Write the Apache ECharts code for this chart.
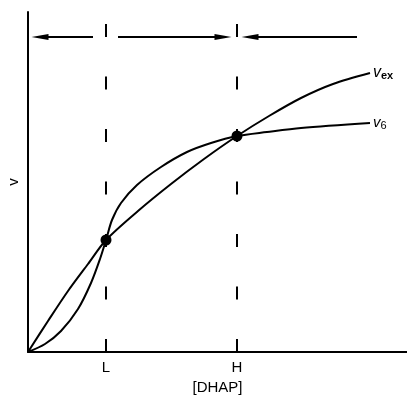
<!DOCTYPE html>
<html>
<head>
<meta charset="utf-8">
<script src="https://cdn.jsdelivr.net/npm/echarts@6/dist/echarts.min.js"></script>
<style>html,body{margin:0;padding:0;background:#fff}#c{width:407px;height:395px}</style>
</head>
<body>
<div id="c"></div>
<script>
// ---- data ----
const L = 78, H = 209;
const xTickValues = [L, H];
const xTickLabels = ['L', 'H'];
const vexX = [0, 20, 40, 60, 78, 110, 143, 176, 209, 241, 273, 305, 342];
const vexY = [0, 31, 61, 88, 112, 141, 168, 193, 216, 236, 254, 268, 279];
const v6X = [0, 17, 33, 50, 63, 72, 78, 84, 93, 109, 133, 159, 183, 209, 239, 273, 342];
const v6Y = [0, 8, 21, 43, 69, 93, 112, 132, 149, 167, 185, 200, 209, 216, 220, 224, 229];
const crossX = [78, 209];
const crossY = [112, 216];
const arrowLevel = 315;
const arrowFrom = [65, 90, 329];
const arrowTo = [12, 195, 222];
const yTop = 340, xRight = 379;

const zip = (a, b) => a.map((v, i) => [v, b[i]]);
const ink = '#000';
const font = 'Liberation Sans';

const chart = echarts.init(document.getElementById('c'), null, {renderer: 'canvas'});
chart.setOption({
  animation: false,
  backgroundColor: '#fff',
  grid: {left: 28, right: 0, top: 12, bottom: 43, containLabel: false, outerBoundsMode: 'none'},
  xAxis: {
    type: 'value', min: 0, max: xRight,
    name: '[DHAP]', nameLocation: 'middle', nameGap: 26,
    nameTextStyle: {color: ink, fontSize: 15, fontFamily: font},
    axisLine: {show: true, onZero: false, lineStyle: {color: ink, width: 2}},
    axisTick: {show: false},
    splitLine: {show: false},
    axisLabel: {
      customValues: xTickValues, margin: 8,
      color: ink, fontSize: 15, fontFamily: font,
      formatter: v => xTickLabels[xTickValues.indexOf(v)] || ''
    }
  },
  yAxis: {
    type: 'value', min: 0, max: yTop,
    name: 'v', nameLocation: 'middle', nameGap: 7,
    nameTextStyle: {color: ink, fontSize: 15, fontFamily: font},
    axisLine: {show: true, onZero: false, lineStyle: {color: ink, width: 2}},
    axisTick: {show: false}, axisLabel: {show: false}, splitLine: {show: false}
  },
  series: [
    {
      name: 'guides', type: 'line', data: [], silent: true,
      markLine: {
        silent: true, symbol: 'none', label: {show: false},
        lineStyle: {color: ink, width: 2, type: [13, 39.5]},
        data: xTickValues.map(v => [{coord: [v, 0]}, {coord: [v, yTop]}])
      }
    },
    {
      name: 'arrows', type: 'line', data: [], silent: true,
      markLine: {
        silent: true, symbol: ['none', 'triangle'], symbolSize: [6, 17],
        label: {show: false},
        lineStyle: {color: ink, width: 2, type: 'solid'},
        data: arrowFrom.map((f, i) => [{coord: [f, arrowLevel]}, {coord: [arrowTo[i], arrowLevel]}])
      }
    },
    {
      name: 'vex', type: 'line', smooth: 0.3, showSymbol: false,
      data: zip(vexX, vexY),
      lineStyle: {color: ink, width: 2},
      endLabel: {
        show: true, distance: 3,
        formatter: '{v|v}{s|ex}',
        rich: {
          v: {fontStyle: 'italic', fontSize: 16, fontFamily: font, color: ink},
          s: {fontSize: 11, fontWeight: 'bold', fontFamily: font, color: ink, padding: [5, 0, 0, 0]}
        }
      }
    },
    {
      name: 'v6', type: 'line', smooth: 0.3, showSymbol: false,
      data: zip(v6X, v6Y),
      lineStyle: {color: ink, width: 2},
      endLabel: {
        show: true, distance: 3,
        formatter: '{v|v}{s|6}',
        rich: {
          v: {fontStyle: 'italic', fontSize: 15, fontFamily: font, color: ink},
          s: {fontSize: 11, fontFamily: font, color: ink, padding: [5, 0, 0, 0]}
        }
      }
    },
    {
      name: 'cross', type: 'scatter', symbol: 'circle', symbolSize: 11, z: 10,
      data: zip(crossX, crossY),
      itemStyle: {color: ink, opacity: 1}
    }
  ]
});
</script>
</body>
</html>
